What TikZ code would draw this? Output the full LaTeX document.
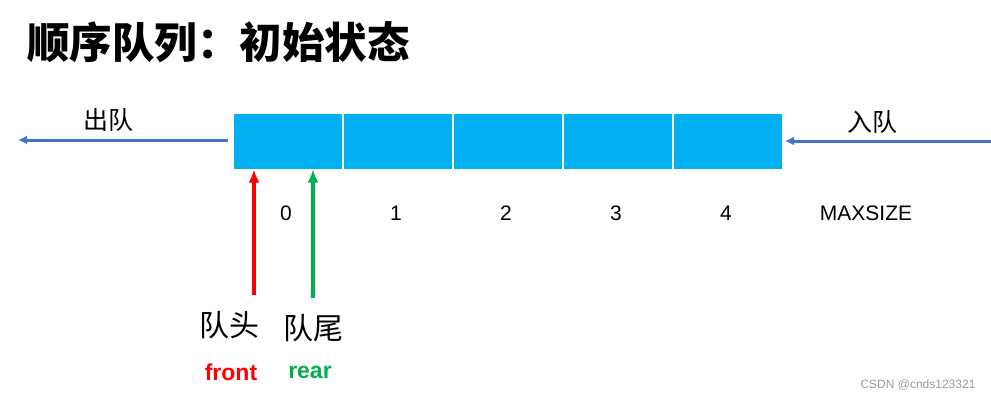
\documentclass[tikz,border=0pt]{standalone}
\usepackage{fontspec}
\setmainfont{Liberation Sans}
\newfontfamily\cjk{Noto Sans CJK SC}
\usepackage{tikz}
\usetikzlibrary{arrows.meta, calc, positioning}
\usepackage{xcolor}
\definecolor{CellBlue}{HTML}{00B0F0}
\definecolor{ArrowBlue}{HTML}{4472C4}
\definecolor{FrontRed}{HTML}{FF0000}
\definecolor{RearGreen}{HTML}{00B050}
\tikzset{%
  cell/.style={%
    rectangle,%
    fill=CellBlue,%
    draw=white,%
    line width=1pt,%
    minimum width=109pt,%
    minimum height=56pt,%
    inner sep=0pt,%
  },
  index_label/.style={%
    font={\fontsize{21}{25}\selectfont},%
    inner sep=0pt,%
  },
  cjk_label/.style={%
    font={\fontsize{25}{30}\selectfont\cjk},%
    inner sep=0pt,%
  },
  pointer_label/.style={%
    font={\fontsize{30}{34}\selectfont\cjk},%
    inner sep=0pt,%
  },
  queue_path/.style={%
    color=ArrowBlue,%
    line width=3pt,%
    -{Latex[length=9pt, width=9pt]},%
  },
  pointer_path/.style={%
    line width=4pt,%
    -{Latex[length=13pt, width=11pt]},%
  },
}

\begin{document}
\begin{tikzpicture}[x=1pt, y=1pt]

    \useasboundingbox (0,0) rectangle (991,400);

    \node [anchor=west, inner sep=0pt,
      font={\fontsize{42.5}{48}\selectfont\cjk\bfseries}] (Title)
      at (27, 358) {顺序队列：初始状态};

    % queue cells
    \node [cell, anchor=west] (Cell0) at (233, 259) {};
    \node [cell, right = 0 of Cell0] (Cell1) {};
    \node [cell, right = 0 of Cell1] (Cell2) {};
    \node [cell, right = 0 of Cell2] (Cell3) {};
    \node [cell, right = 0 of Cell3] (Cell4) {};

    \foreach \i in {0,...,4} {
      \node [index_label] (Index\i) at ($(Cell\i.south)+(-2,-44)$) {\i};
    }
    \node [index_label] (MaxSize) at (866, 187) {MAXSIZE};

    % dequeue / enqueue
    \coordinate (OutEnd) at (18, 260);
    \coordinate (InStart) at (991, 259);
    \draw [queue_path] ($(Cell0.west)+(-5,1)$) -- (OutEnd);
    \draw [queue_path] (InStart) -- ($(Cell4.east)+(2,0)$);
    \node [cjk_label] (Out) at (108, 280) {出队};
    \node [cjk_label] (In) at (872, 278) {入队};

    % front / rear pointers
    \coordinate (FrontStart) at (254, 105);
    \coordinate (RearStart) at (313, 102);
    \draw [pointer_path, FrontRed] (FrontStart) -- (FrontStart |- Cell0.south);
    \draw [pointer_path, RearGreen] (RearStart) -- (RearStart |- Cell0.south);

    \node [pointer_label] (Head) at (229, 75) {队头};
    \node [pointer_label] (Tail) at (313, 72) {队尾};
    \node [font={\fontsize{23}{27}\selectfont\bfseries}, text=FrontRed,
      inner sep=0pt] (Front) at (231, 28) {front};
    \node [font={\fontsize{23}{27}\selectfont\bfseries}, text=RearGreen,
      inner sep=0pt] (Rear) at (310, 28) {rear};

    \node [font={\fontsize{12}{14}\selectfont}, text=gray!80,
      inner sep=0pt] (Mark) at (918, 15) {CSDN @cnds123321};

  \end{tikzpicture}
\end{document}
